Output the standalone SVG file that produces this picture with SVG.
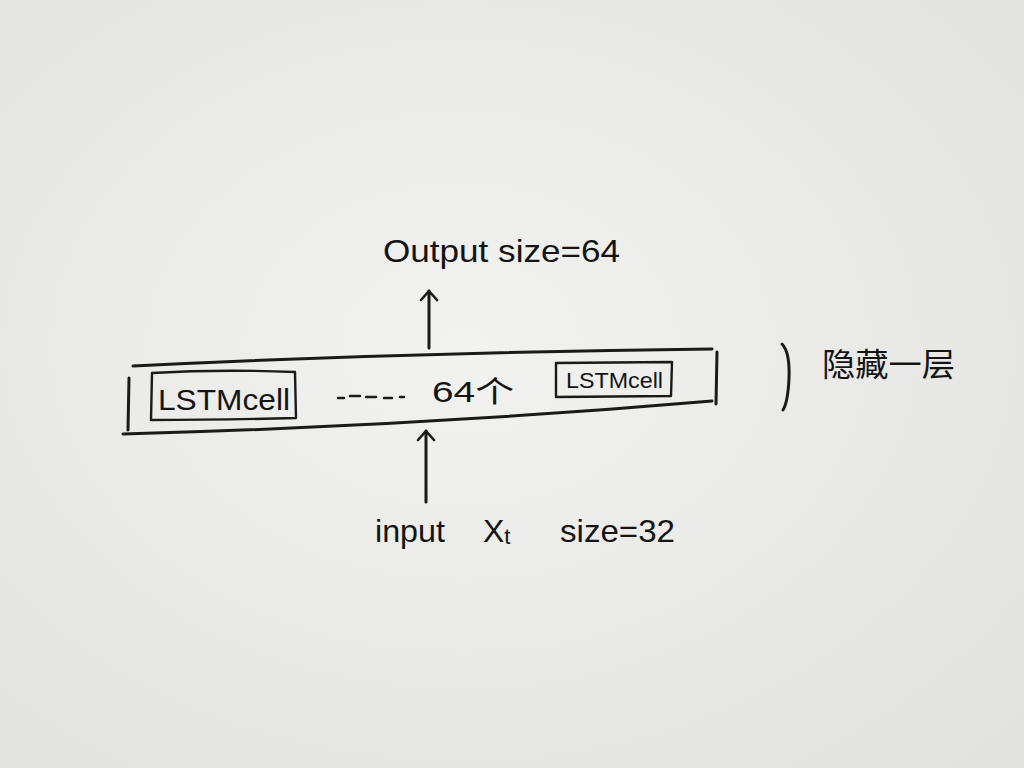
<svg xmlns="http://www.w3.org/2000/svg" width="1024" height="768" viewBox="0 0 1024 768">
  <defs>
    <radialGradient id="paper" cx="0.45" cy="0.45" r="0.75">
      <stop offset="0" stop-color="#f2f2f0"/>
      <stop offset="1" stop-color="#e2e2df"/>
    </radialGradient>
    <marker id="arrow" viewBox="0 0 20 20" refX="18" refY="10" markerWidth="20" markerHeight="20" markerUnits="userSpaceOnUse" orient="auto">
      <path d="M9 2 L18 10 L9 18" fill="none" stroke="#1a1a1a" stroke-width="2.6" stroke-linecap="round" stroke-linejoin="round"/>
    </marker>
    <style>
      .ink { fill: none; stroke: #1a1a1a; stroke-width: 3; stroke-linecap: round; stroke-linejoin: round; }
      .thin { fill: none; stroke: #1a1a1a; stroke-width: 2.4; stroke-linecap: round; stroke-linejoin: round; }
      .lbl { font-family: "Liberation Sans", "Noto Sans CJK SC", sans-serif; fill: #141414; }
    </style>
  </defs>
  <rect width="1024" height="768" fill="url(#paper)"/>

  <g id="output-label">
    <text class="lbl" x="383" y="262" font-size="32" textLength="237" lengthAdjust="spacingAndGlyphs">Output size=64</text>
  </g>

  <g id="hidden-layer">
    <path class="ink" d="M133 366 Q420 352 712 349"/>
    <path class="ink" d="M123 434 Q420 426 712 401"/>
    <path class="ink" d="M129 378 L128 430"/>
    <path class="ink" d="M717 352 L716 404"/>
  </g>

  <g id="cell-1">
    <path class="thin" d="M152 373 Q220 369 295 372 L296 418 Q220 420 151 420 Z"/>
    <text class="lbl" x="158" y="410" font-size="30" textLength="132" lengthAdjust="spacingAndGlyphs">LSTMcell</text>
  </g>

  <g id="ellipsis">
    <path class="thin" d="M338 398 L344 398 M350 396 L360 396 M366 397 L376 397 M384 398 L392 398 M400 397 L404 397"/>
    <text class="lbl" x="432" y="402" font-size="30" textLength="82" lengthAdjust="spacingAndGlyphs">64个</text>
  </g>

  <g id="cell-2">
    <path class="thin" d="M556 363 L672 362 L671 396 L556 397 Z"/>
    <text class="lbl" x="566" y="388" font-size="22" textLength="97" lengthAdjust="spacingAndGlyphs">LSTMcell</text>
  </g>

  <g id="layer-label">
    <path class="ink" d="M782 344 Q790 352 789 378 Q788 402 783 410"/>
    <text class="lbl" x="822" y="376" font-size="32" textLength="133" lengthAdjust="spacingAndGlyphs">隐藏一层</text>
  </g>

  <g id="input-label">
    <text class="lbl" x="375" y="542" font-size="32" textLength="70" lengthAdjust="spacingAndGlyphs">input</text>
    <text class="lbl" x="483" y="542" font-size="32">X<tspan font-size="22" dy="2">t</tspan></text>
    <text class="lbl" x="560" y="542" font-size="32" textLength="115" lengthAdjust="spacingAndGlyphs">size=32</text>
  </g>

  <g id="connectors">
    <path class="ink" d="M429 348 L429 291" marker-end="url(#arrow)"/>
    <path class="ink" d="M426 502 L426 431" marker-end="url(#arrow)"/>
  </g>
</svg>
